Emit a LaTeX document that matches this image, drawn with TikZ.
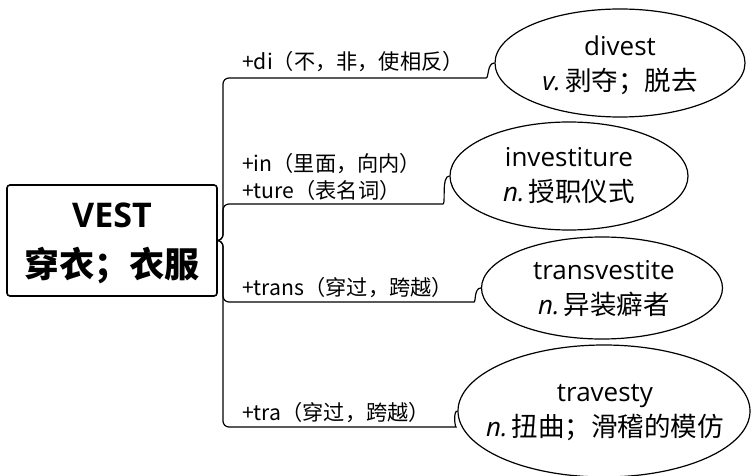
\documentclass[tikz,border=0pt]{standalone}
\usepackage{fontspec}
\setmainfont{Open Sans}
\newfontfamily\cjk{Noto Sans CJK SC}
\usetikzlibrary{shapes.geometric}
\begin{document}
\begin{tikzpicture}[x=1pt,y=-1pt,
  conn/.style={line width=1.2pt, rounded corners=6pt},
  rootbox/.style={draw, rounded corners=3pt, line width=1.6pt, minimum width=210pt, minimum height=111pt, align=center, inner sep=0pt, font=\fontsize{35}{50}\selectfont\bfseries},
  leaf/.style={draw, ellipse, inner sep=0pt, line width=1.2pt},
  leaftext/.style={align=center, font=\fontsize{26}{35}\selectfont, inner sep=0pt},
  lab/.style={anchor=west, align=left, font=\cjk\fontsize{21.2}{27}\selectfont, inner sep=0pt}]
\useasboundingbox (0,0) rectangle (752,476);

\node[rootbox] (root) at (112,240.5) {};
\node[align=center, inner sep=0pt, font=\fontsize{35}{50}\selectfont\bfseries] (roottext) at (112,243) {{\fontsize{34}{50}\selectfont VEST}\\{\cjk 穿衣；衣服}};

\node[leaf, minimum width=250pt, minimum height=108pt] (e1) at (620,63) {};
\node[leaf, minimum width=238pt, minimum height=108pt] (e2) at (569,176) {};
\node[leaf, minimum width=241pt, minimum height=102pt] (e3) at (602,288) {};
\node[leaf, minimum width=292pt, minimum height=132pt] (e4) at (604,411) {};

\node[leaftext] (t1) at (620,65) {divest\\\textit{v.}\,{\cjk\fontsize{26.5}{35}\selectfont 剥夺；脱去}};
\node[leaftext] (t2) at (569,176) {investiture\\\textit{n.}\,{\cjk\fontsize{26.5}{35}\selectfont 授职仪式}};
\node[leaftext] (t3) at (604,289) {transvestite\\\textit{n.}\,{\cjk\fontsize{26.5}{35}\selectfont 异装癖者}};
\node[leaftext] (t4) at (605,413) {travesty\\\textit{n.}\,{\cjk\fontsize{26.5}{35}\selectfont 扭曲；滑稽的模仿}};

\node[lab] (l1) at (242,62) {+di（不，非，使相反）};
\node[lab] (l2) at (242,177) {+in（里面，向内）\\+ture（表名词）};
\node[lab] (l3) at (242,288) {+trans（穿过，跨越）};
\node[lab] (l4) at (242,413) {+tra（穿过，跨越）};

\draw[conn] (root.east) -- (223,240.5) -- (223,78) -- (480,78) .. controls (489,78) and (487,63) .. (e1.west);
\draw[conn] (root.east) -- (223,240.5) -- (223,204) -- (437,204) .. controls (446,204) and (441,176) .. (e2.west);
\draw[conn] (root.east) -- (223,240.5) -- (223,302) -- (468,302) .. controls (476,302) and (474,288) .. (e3.west);
\draw[conn] (root.east) -- (223,240.5) -- (223,427) -- (450,427) .. controls (455,427) and (453,411) .. (e4.west);
\end{tikzpicture}
\end{document}
